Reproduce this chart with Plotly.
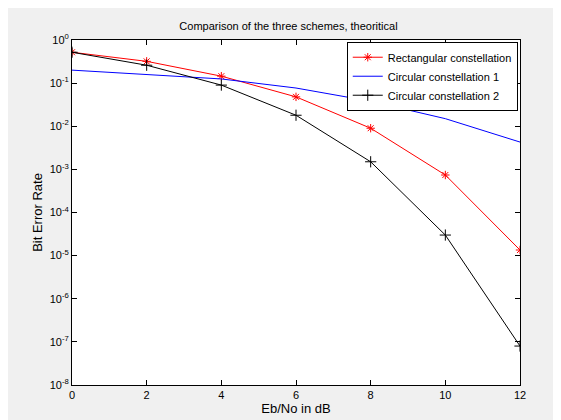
import plotly.graph_objects as go

snr_db = [0, 2, 4, 6, 8, 10, 12]
ber_rect = [0.52, 0.32, 0.145, 0.048, 0.009, 7.4e-4, 1.35e-5]
ber_circ1 = [0.2, 0.16, 0.125, 0.077, 0.038, 0.015, 4.3e-3]
ber_circ2 = [0.52, 0.26, 0.09, 0.018, 1.5e-3, 3e-5, 8e-8]

decades = list(range(-8, 1))

fig = go.Figure()
fig.add_trace(go.Scatter(x=snr_db, y=ber_rect, name='Rectangular constellation',
                         mode='lines+markers', line=dict(color='red', width=1),
                         marker=dict(symbol='asterisk-open', size=7, color='red')))
fig.add_trace(go.Scatter(x=snr_db, y=ber_circ1, name='Circular constellation 1',
                         mode='lines', line=dict(color='blue', width=1)))
fig.add_trace(go.Scatter(x=snr_db, y=ber_circ2, name='Circular constellation 2',
                         mode='lines+markers', line=dict(color='black', width=1),
                         marker=dict(symbol='cross-thin-open', size=8, color='black',
                                     line=dict(width=1, color='black'))))

axis_style = dict(showline=True, linecolor='black', linewidth=1, mirror='ticks',
                  ticks='inside', ticklen=5, tickcolor='black', showgrid=False,
                  zeroline=False, tickfont=dict(size=11, color='black'))

fig.update_xaxes(range=[0, 12], tickvals=snr_db, title=dict(text='Eb/No in dB', standoff=2),
                 **axis_style)
fig.update_yaxes(type='log', range=[-8, 0], tickvals=[10 ** d for d in decades],
                 ticktext=['10<sup>%d</sup>' % d for d in decades],
                 title=dict(text='Bit Error Rate', standoff=4), **axis_style)

fig.update_layout(
    width=561, height=420,
    margin=dict(l=64, r=49, t=32, b=43),
    paper_bgcolor='#f0f0f0', plot_bgcolor='white',
    font=dict(family='Arial, Liberation Sans', size=11, color='black'),
    title=dict(text='Comparison of the three schemes, theoritical', x=0.5, y=0.965,
               xanchor='center', font=dict(size=11)),
    legend=dict(x=0.995, y=0.995, xanchor='right', yanchor='top', bgcolor='white',
                bordercolor='black', borderwidth=1, font=dict(size=11),
                tracegroupgap=0),
)

fig.write_html('out.html')
